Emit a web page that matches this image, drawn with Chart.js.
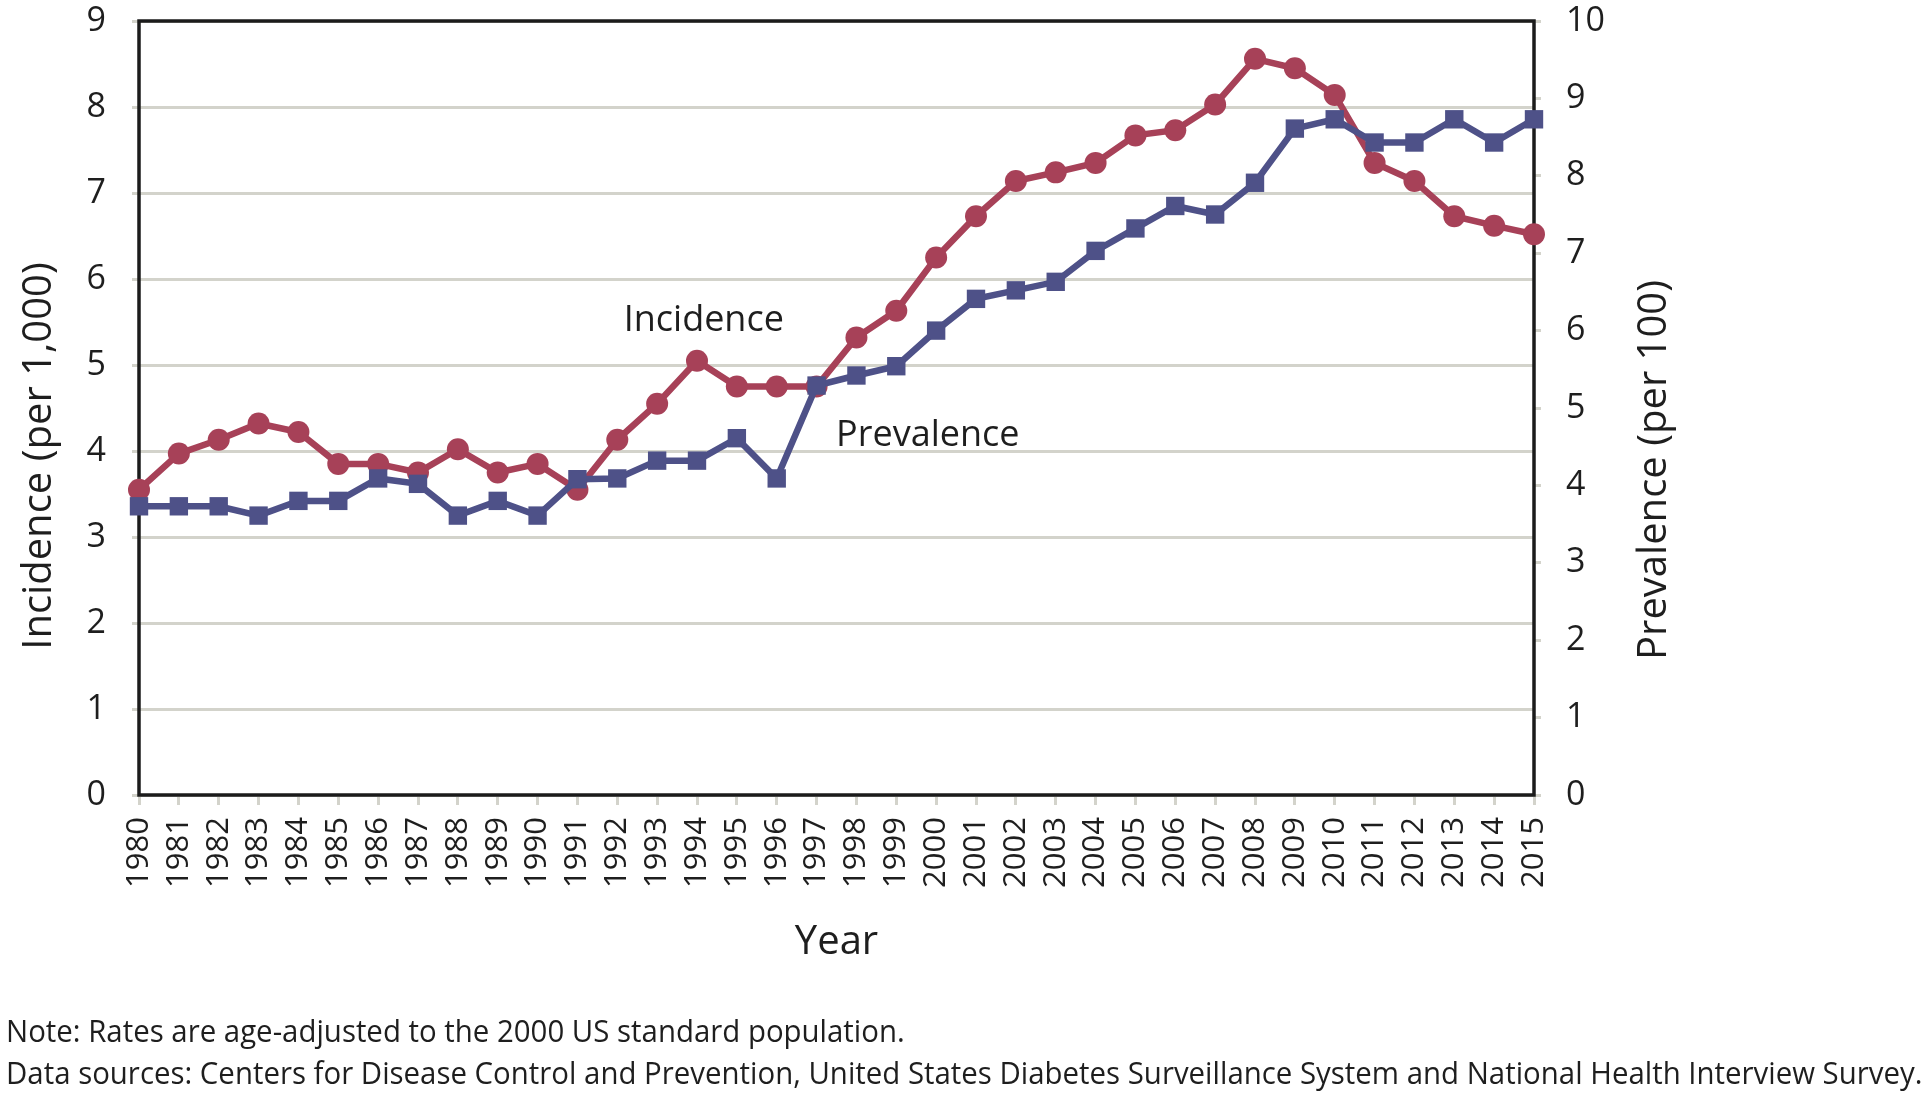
<!DOCTYPE html>
<html>
<head>
<meta charset="utf-8">
<script src="https://cdn.jsdelivr.net/npm/chart.js@4.4.1/dist/chart.umd.min.js"></script>
<style>
  body { margin: 0; background: #fff; }
  #wrap { position: relative; width: 1931px; height: 1102px; }
  .note { position: absolute; left: 6px; font-family: 'Open Sans', sans-serif; font-size: 31px; color: #1e1e1e; white-space: nowrap; line-height: 1; transform-origin: 0 0; }
</style>
</head>
<body>
<div id="wrap">
  <canvas id="chart"></canvas>
  <div class="note" id="note1" style="top:1015px">Note: Rates are age-adjusted to the 2000 US standard population.</div>
  <div class="note" id="note2" style="top:1057px">Data sources: Centers for Disease Control and Prevention, United States Diabetes Surveillance System and National Health Interview Survey.</div>
</div>
<script>
// values
const years = ['1980','1981','1982','1983','1984','1985','1986','1987','1988','1989',
  '1990','1991','1992','1993','1994','1995','1996','1997','1998','1999',
  '2000','2001','2002','2003','2004','2005','2006','2007','2008','2009',
  '2010','2011','2012','2013','2014','2015'];

// incidence per 1,000 (left axis)
const incidence = [3.55, 3.97, 4.13, 4.32, 4.22, 3.85, 3.85, 3.75, 4.02, 3.75,
  3.85, 3.55, 4.13, 4.55, 5.05, 4.75, 4.75, 4.75, 5.32, 5.63,
  6.25, 6.73, 7.14, 7.24, 7.35, 7.67, 7.73, 8.03, 8.56, 8.45,
  8.14, 7.35, 7.14, 6.73, 6.62, 6.52];

// prevalence per 100 (right axis)
const prevalence = [3.73, 3.73, 3.73, 3.61, 3.80, 3.80, 4.09, 4.02, 3.61, 3.80,
  3.61, 4.08, 4.09, 4.32, 4.32, 4.61, 4.09, 5.29, 5.42, 5.54,
  6.00, 6.41, 6.52, 6.63, 7.03, 7.32, 7.61, 7.50, 7.91, 8.61,
  8.73, 8.43, 8.43, 8.73, 8.43, 8.73];

const leftTicks = [0, 1, 2, 3, 4, 5, 6, 7, 8, 9];
const rightTicks = [0, 1, 2, 3, 4, 5, 6, 7, 8, 9, 10];

const red = '#a74158';
const blue = '#4e5188';
const gridGray = '#d3d3cb';
const textCol = '#1e1e1e';
const FONT = "'Open Sans', sans-serif";

// draws the frame, axis titles and the two series labels
const decor = {
  id: 'decor',
  beforeDatasetsDraw(chart) {
    const { ctx, chartArea: a } = chart;
    ctx.save();
    ctx.strokeStyle = '#1b1b1b';
    ctx.lineWidth = 3.5;
    ctx.strokeRect(a.left, a.top, a.width, a.height);
    ctx.restore();
  },
  afterDraw(chart) {
    const { ctx } = chart;
    const xs = chart.scales.x, ys = chart.scales.y;
    ctx.save();
    ctx.fillStyle = textCol;
    ctx.font = '40px ' + FONT;
    ctx.textAlign = 'center';
    ctx.textBaseline = 'middle';

    ctx.save();
    ctx.translate(40, 456);
    ctx.rotate(-Math.PI / 2);
    ctx.fillText('Incidence (per 1,000)', 0, 0);
    ctx.restore();

    ctx.save();
    ctx.translate(1655, 470);
    ctx.rotate(-Math.PI / 2);
    ctx.fillText('Prevalence (per 100)', 0, 0);
    ctx.restore();

    ctx.fillText('Year', (xs.left + xs.right) / 2, 943);

    ctx.font = '36px ' + FONT;
    ctx.textAlign = 'left';
    ctx.textBaseline = 'alphabetic';
    ctx.fillText('Incidence', xs.getPixelForValue(12.16), ys.getPixelForValue(5.39));
    ctx.fillText('Prevalence', xs.getPixelForValue(17.49), ys.getPixelForValue(4.06));
    ctx.restore();
  }
};

Chart.defaults.font.family = FONT;
Chart.defaults.color = textCol;

new Chart(document.getElementById('chart'), {
  type: 'line',
  data: {
    labels: years,
    datasets: [
      {
        label: 'Prevalence',
        data: prevalence,
        yAxisID: 'y1',
        borderColor: blue,
        backgroundColor: blue,
        borderWidth: 6.5,
        pointStyle: 'rect',
        pointRadius: 13,
        pointBorderWidth: 0,
        tension: 0
      },
      {
        label: 'Incidence',
        data: incidence,
        yAxisID: 'y',
        borderColor: red,
        backgroundColor: red,
        borderWidth: 6.5,
        pointStyle: 'circle',
        pointRadius: 11,
        pointBorderWidth: 0,
        tension: 0
      }
    ]
  },
  options: {
    responsive: true,
    maintainAspectRatio: false,
    animation: false,
    layout: { padding: { top: 21, left: 0, right: 0, bottom: 0 } },
    plugins: {
      legend: { display: false },
      tooltip: { enabled: false }
    },
    scales: {
      x: {
        type: 'category',
        offset: false,
        grid: { drawOnChartArea: false, drawTicks: true, tickLength: 10, color: gridGray, lineWidth: 3 },
        border: { display: false },
        ticks: {
          autoSkip: false,
          minRotation: 90,
          maxRotation: 90,
          padding: 12,
          font: { size: 31, lineHeight: 1 },
          color: textCol
        },
        afterFit(scale) { scale.height = 307; scale.paddingLeft = 0; scale.paddingRight = 0; }
      },
      y: {
        position: 'left',
        min: 0,
        max: 9,
        afterBuildTicks(scale) { scale.ticks = leftTicks.map(v => ({ value: v })); },
        grid: { drawOnChartArea: true, drawTicks: true, tickLength: 7, color: gridGray, lineWidth: 3 },
        border: { display: false },
        ticks: { padding: 26, font: { size: 34, lineHeight: 1 }, color: textCol },
        afterFit(scale) { scale.width = 139; scale.paddingTop = 0; scale.paddingBottom = 0; }
      },
      y1: {
        position: 'right',
        min: 0,
        max: 10,
        afterBuildTicks(scale) { scale.ticks = rightTicks.map(v => ({ value: v })); },
        grid: { drawOnChartArea: false, drawTicks: true, tickLength: 7, color: gridGray, lineWidth: 3 },
        border: { display: false },
        ticks: { padding: 25, font: { size: 34, lineHeight: 1 }, color: textCol },
        afterFit(scale) { scale.width = 397; scale.paddingTop = 0; scale.paddingBottom = 0; }
      }
    }
  },
  plugins: [decor]
});

// the source notes use a narrow face; squeeze ours to the same line length
const n2 = document.getElementById('note2');
const squeeze = Math.min(1, 1916 / n2.scrollWidth);
['note1', 'note2'].forEach(id => {
  document.getElementById(id).style.transform = 'scaleX(' + squeeze + ')';
});
</script>
</body>
</html>
